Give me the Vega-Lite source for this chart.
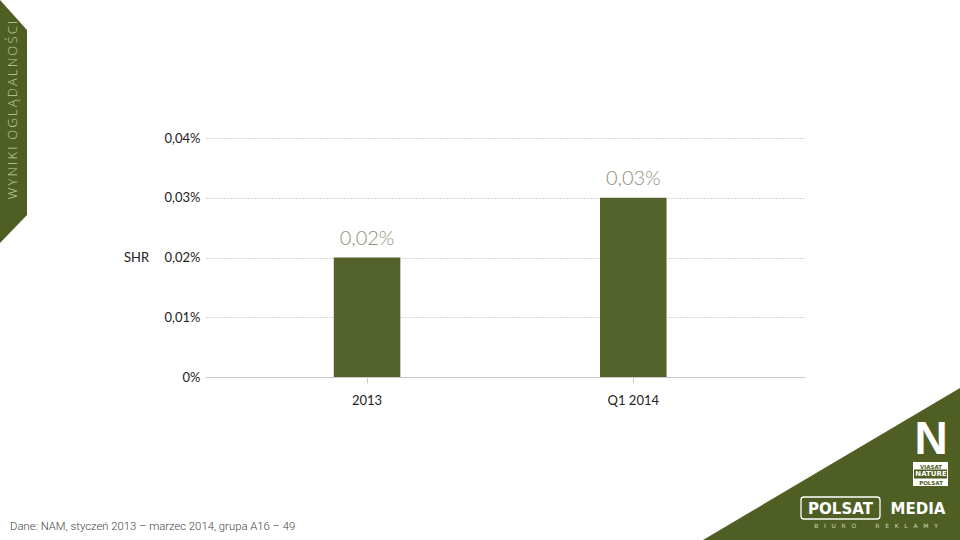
{
  "$schema": "https://vega.github.io/schema/vega-lite/v6.json",
  "autosize": "none",
  "width": 599,
  "height": 239,
  "padding": {"left": 206, "top": 138, "right": 155, "bottom": 163},
  "background": "white",
  "config": {
    "view": {"stroke": null},
    "font": "Lato",
    "locale": {"number": {"decimal": ",", "thousands": " ", "grouping": [3], "currency": ["", " zł"]}},
    "axis": {"labelFont": "Lato", "titleFont": "Lato"}
  },
  "resolve": {"scale": {"x": "independent", "y": "independent"}},
  "layer": [
    {
      "data": {"values": [
        {"period": "2013", "shr": 0.0002},
        {"period": "Q1 2014", "shr": 0.0003}
      ]},
      "encoding": {
        "x": {
          "field": "period", "type": "nominal", "sort": null,
          "scale": {"paddingInner": 0.75, "paddingOuter": 0.5, "align": 0.48},
          "axis": {
            "title": null, "labelAngle": 0, "labelFontSize": 13, "labelColor": "#222222",
            "domainColor": "#c8c8c8", "domainWidth": 1, "tickColor": "#c8c8c8", "tickSize": 6,
            "labelPadding": 11, "grid": false
          }
        },
        "y": {
          "field": "shr", "type": "quantitative",
          "scale": {"domain": [0, 0.0004], "nice": false},
          "axis": {
            "title": "SHR", "titleAngle": 0, "titleX": -70, "titleY": 119,
            "titleAlign": "center", "titleBaseline": "middle", "titleFontWeight": "normal",
            "titleFontSize": 13, "titleColor": "#222222",
            "values": [0, 0.0001, 0.0002, 0.0003, 0.0004],
            "format": ".2~%",
            "labelFontSize": 13, "labelColor": "#222222", "labelPadding": 6,
            "ticks": false, "domain": false,
            "grid": true, "gridColor": "#aaaaaa", "gridDash": [1, 2], "gridWidth": 1
          }
        }
      },
      "layer": [
        {"mark": {"type": "bar", "color": "#52622a"}},
        {
          "mark": {"type": "text", "baseline": "bottom", "dy": -9, "fontSize": 20, "fontWeight": 300, "font": "Lato", "color": "#8c9079"},
          "encoding": {"text": {"field": "shr", "type": "quantitative", "format": ".2~%"}}
        }
      ]
    },
    {
      "encoding": {
        "x": {"field": "x", "type": "quantitative", "scale": {"domain": [0, 960], "range": [-206, 754], "nice": false, "zero": false}, "axis": null},
        "y": {"field": "y", "type": "quantitative", "scale": {"domain": [0, 540], "range": [-138, 402], "nice": false, "zero": false}, "axis": null}
      },
      "layer": [
        {
          "data": {"values": [{"x": 0, "y": 0, "y2": 243}, {"x": 27, "y": 30, "y2": 215}]},
          "mark": {"type": "area", "color": "#4f5f23", "opacity": 1},
          "encoding": {"y2": {"field": "y2"}}
        },
        {
          "data": {"values": [{"x": 703, "y": 540, "y2": 540}, {"x": 960, "y": 388, "y2": 540}]},
          "mark": {"type": "area", "color": "#4f5f23", "opacity": 1},
          "encoding": {"y2": {"field": "y2"}}
        },
        {
          "data": {"values": [{"label": "W\u2009Y\u2009N\u2009I\u2009K\u2009I\u00a0\u00a0O\u2009G\u2009L\u2009Ą\u2009D\u2009A\u2009L\u2009N\u2009O\u2009Ś\u2009C\u2009I", "x": 13, "y": 110}]},
          "mark": {"type": "text", "angle": 270, "align": "center", "baseline": "middle", "fontSize": 13, "font": "Open Sans", "fontWeight": 300, "color": "#c5cea3"},
          "encoding": {"text": {"field": "label"}}
        },
        {
          "data": {"values": [{"label": "Dane: NAM, styczeń 2013 – marzec 2014, grupa A16 – 49", "x": 10, "y": 527}]},
          "mark": {"type": "text", "align": "left", "baseline": "middle", "fontSize": 11.3, "font": "Roboto", "fontWeight": 300, "color": "#444444"},
          "encoding": {"text": {"field": "label"}}
        },
        {
          "data": {"values": [{"label": "N", "x": 931, "y": 463.5}]},
          "mark": {"type": "text", "align": "center", "baseline": "bottom", "fontSize": 46, "font": "Liberation Sans", "fontWeight": "bold", "color": "white"},
          "encoding": {"text": {"field": "label"}}
        },
        {
          "data": {"values": [{"x": 913, "x2": 948, "y": 462, "y2": 486}]},
          "mark": {"type": "rect", "color": "white"},
          "encoding": {"x2": {"field": "x2"}, "y2": {"field": "y2"}}
        },
        {
          "data": {"values": [{"x": 914, "x2": 947, "y": 469.5, "y2": 478.5}]},
          "mark": {"type": "rect", "color": "#4f5f23"},
          "encoding": {"x2": {"field": "x2"}, "y2": {"field": "y2"}}
        },
        {
          "data": {"values": [{"label": "VIASAT", "x": 931, "y": 466.5}, {"label": "POLSAT", "x": 931, "y": 482.5}]},
          "mark": {"type": "text", "align": "center", "baseline": "middle", "fontSize": 5.5, "font": "DejaVu Sans", "fontWeight": "bold", "color": "#4f5f23"},
          "encoding": {"text": {"field": "label"}}
        },
        {
          "data": {"values": [{"label": "NATURE", "x": 931, "y": 474}]},
          "mark": {"type": "text", "align": "center", "baseline": "middle", "fontSize": 7, "font": "DejaVu Sans", "fontWeight": "bold", "color": "white"},
          "encoding": {"text": {"field": "label"}}
        },
        {
          "data": {"values": [{"x": 801, "x2": 880, "y": 497, "y2": 519}]},
          "mark": {"type": "rect", "fill": null, "fillOpacity": 0, "stroke": "white", "strokeWidth": 1.3, "cornerRadius": 3},
          "encoding": {"x2": {"field": "x2"}, "y2": {"field": "y2"}}
        },
        {
          "data": {"values": [{"label": "POLSAT", "x": 840.5, "y": 508.5}, {"label": "MEDIA", "x": 918, "y": 508.5}]},
          "mark": {"type": "text", "align": "center", "baseline": "middle", "fontSize": 15, "font": "DejaVu Sans", "fontWeight": "bold", "color": "white"},
          "encoding": {"text": {"field": "label"}}
        },
        {
          "data": {"values": [{"label": "B\u00a0\u00a0\u00a0I\u00a0\u00a0\u00a0U\u00a0\u00a0\u00a0R\u00a0\u00a0\u00a0O\u00a0\u00a0\u00a0\u00a0\u00a0\u00a0\u00a0\u00a0\u00a0\u00a0R\u00a0\u00a0\u00a0E\u00a0\u00a0\u00a0K\u00a0\u00a0\u00a0L\u00a0\u00a0\u00a0A\u00a0\u00a0\u00a0M\u00a0\u00a0\u00a0Y", "x": 876, "y": 526}]},
          "mark": {"type": "text", "align": "center", "baseline": "middle", "fontSize": 6, "font": "DejaVu Sans", "color": "#d3dab8"},
          "encoding": {"text": {"field": "label"}}
        }
      ]
    }
  ]
}
